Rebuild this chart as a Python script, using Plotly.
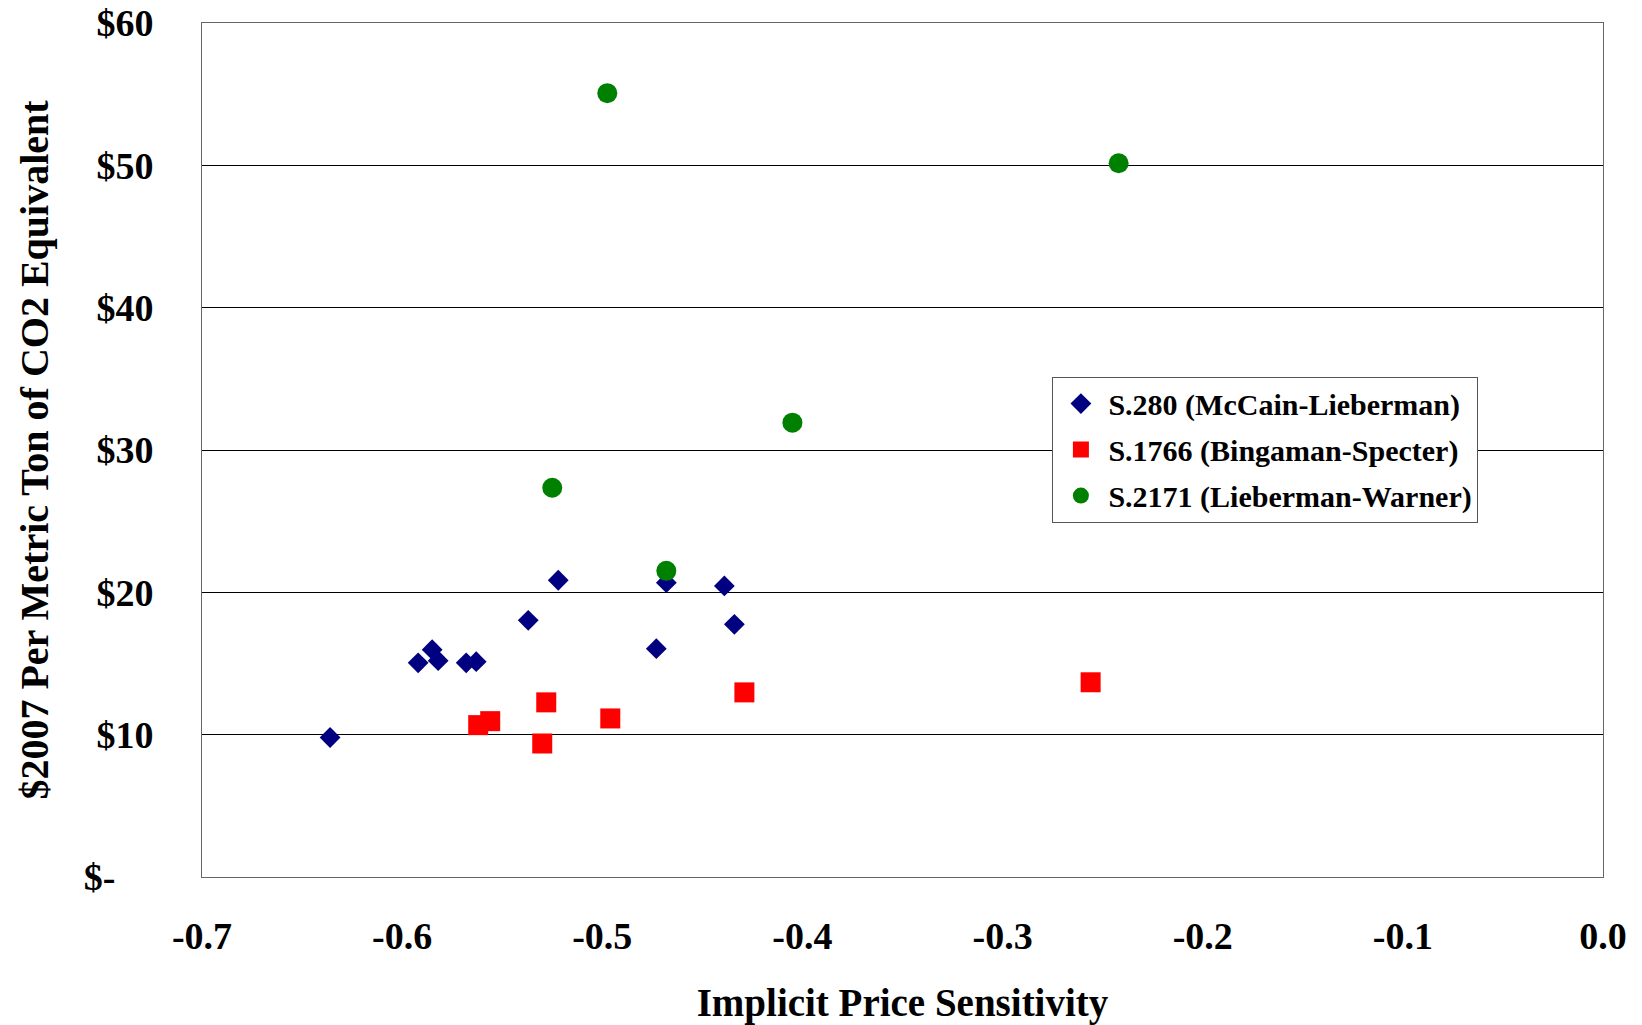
import plotly.graph_objects as go

# Data
s280_x = [-0.636, -0.592, -0.585, -0.582, -0.568, -0.563, -0.537, -0.522, -0.473, -0.468, -0.439, -0.434]
s280_y = [9.8, 15.05, 15.97, 15.2, 15.05, 15.13, 18.03, 20.85, 16.04, 20.68, 20.45, 17.75]

s1766_x = [-0.562, -0.556, -0.528, -0.530, -0.496, -0.429, -0.256]
s1766_y = [10.67, 10.95, 12.27, 9.38, 11.14, 12.97, 13.68]

s2171_x = [-0.4975, -0.242, -0.405, -0.525, -0.468]
s2171_y = [55.07, 50.15, 31.92, 27.35, 21.51]

series_names = ["S.280 (McCain-Lieberman)", "S.1766 (Bingaman-Specter)", "S.2171 (Lieberman-Warner)"]

x_ticks = [-0.7, -0.6, -0.5, -0.4, -0.3, -0.2, -0.1, 0.0]
x_tick_labels = ["-0.7", "-0.6", "-0.5", "-0.4", "-0.3", "-0.2", "-0.1", "0.0"]
y_ticks = [0, 10, 20, 30, 40, 50, 60]
y_tick_labels = ["$-\u00a0\u00a0\u00a0\u00a0", "$10", "$20", "$30", "$40", "$50", "$60"]

FONT = "Liberation Serif"

fig = go.Figure()
fig.add_trace(go.Scatter(
    x=s280_x, y=s280_y, mode="markers", name=series_names[0], legendgroup="a",
    marker=dict(symbol="diamond", size=16, color="#000080", line=dict(width=0)),
))
fig.add_trace(go.Scatter(
    x=s1766_x, y=s1766_y, mode="markers", name=series_names[1], legendgroup="b",
    marker=dict(symbol="square", size=20, color="#FF0000", line=dict(width=0)),
))
fig.add_trace(go.Scatter(
    x=s2171_x, y=s2171_y, mode="markers", name=series_names[2], legendgroup="c",
    marker=dict(symbol="circle", size=20, color="#008000", line=dict(width=0)),
))

fig.update_layout(
    width=1642, height=1025,
    margin=dict(l=202, r=39, t=23, b=148),
    paper_bgcolor="white", plot_bgcolor="white",
    font=dict(family=FONT, size=38, color="black", weight="bold"),
    legend=dict(
        x=0.607, y=0.586, xanchor="left", yanchor="top",
        bgcolor="white", bordercolor="#555555", borderwidth=1,
        font=dict(family=FONT, size=30, color="black", weight="bold"),
        tracegroupgap=4, traceorder="grouped", itemwidth=45,
    ),
    showlegend=True,
)

fig.update_xaxes(
    range=[-0.7, 0.0], tickvals=x_ticks, ticktext=x_tick_labels,
    showgrid=False, zeroline=False, automargin=False,
    showline=True, linecolor="#666666", linewidth=1, mirror=True,
    ticks="", ticklabelstandoff=25,
    tickfont=dict(family=FONT, size=38, color="black", weight="bold"),
    title=dict(text="Implicit Price Sensitivity", font=dict(family=FONT, size=39, weight="bold"), standoff=37),
)
fig.update_yaxes(
    range=[0, 60], tickvals=y_ticks, ticktext=y_tick_labels,
    showgrid=True, gridcolor="black", gridwidth=1, zeroline=False, automargin=False,
    showline=True, linecolor="#666666", linewidth=1, mirror=True,
    ticks="", ticklabelstandoff=40,
    tickfont=dict(family=FONT, size=38, color="black", weight="bold"),
    title=dict(text="$2007 Per Metric Ton of CO2 Equivalent", font=dict(family=FONT, size=40, weight="bold"), standoff=22),
)

fig.write_html("out.html")
